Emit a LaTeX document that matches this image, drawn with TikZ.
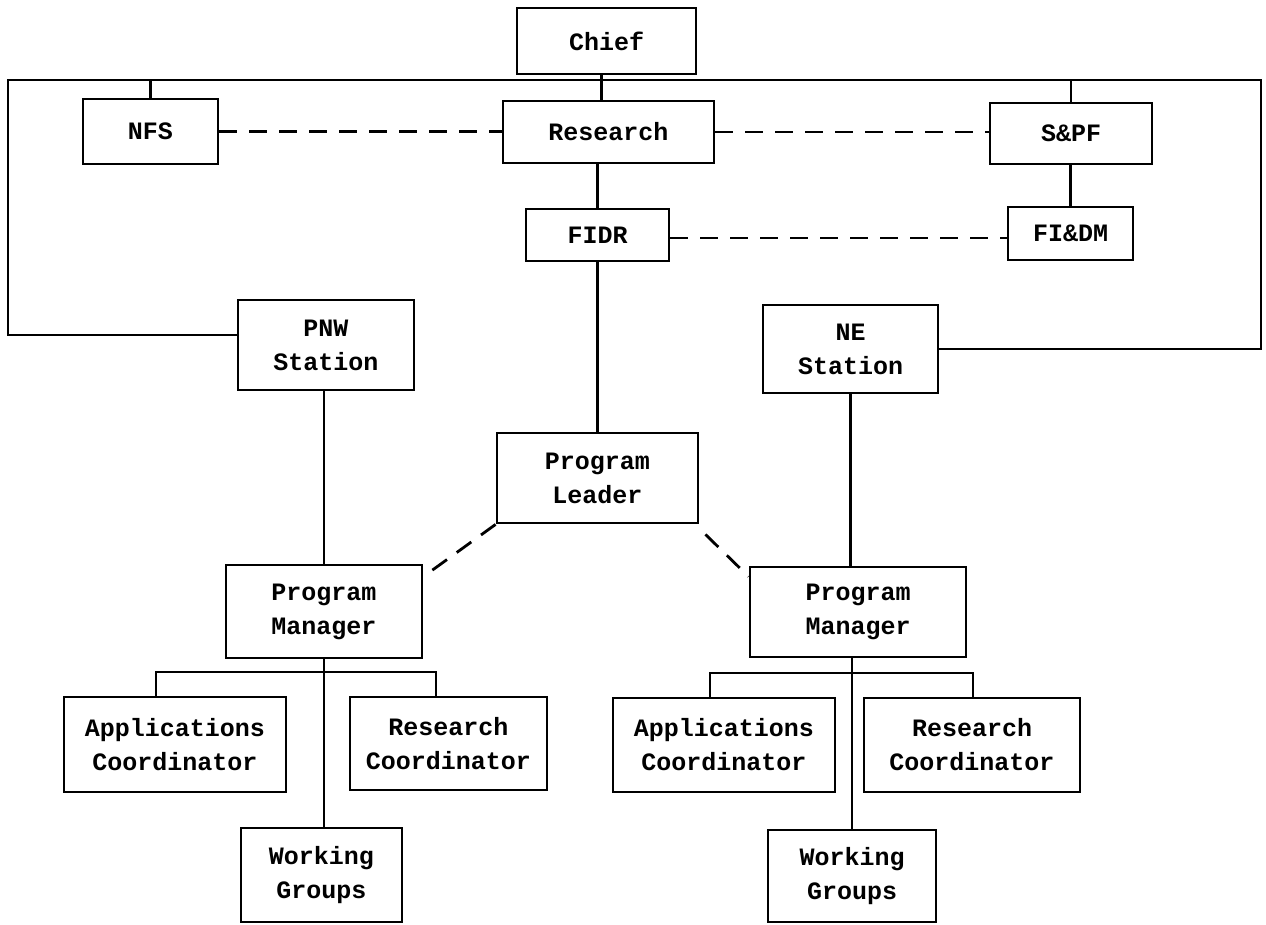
\documentclass[tikz,border=0pt]{standalone}
\usepackage{fontspec}
\newfontfamily\tw{Liberation Mono}
\begin{document}
\begin{tikzpicture}[x=1pt,y=-1pt,
  box/.style={draw, line width=2.8pt, inner sep=0pt, align=center,
    font=\tw\bfseries\fontsize{25}{34}\selectfont},
  conn/.style={line width=2.8pt},
  dsh/.style={line width=2.8pt, dash pattern=on 18pt off 12pt}]
\useasboundingbox (0,0) rectangle (1266,924);
% boxes
\node[box, minimum width=179pt, minimum height=66pt] (chief) at (606.5,41) {Chief};
\node[box, minimum width=135pt, minimum height=65pt] (nfs) at (150.5,131.5) {NFS};
\node[box, minimum width=211pt, minimum height=62pt] (research) at (608.5,132) {Research};
\node[box, minimum width=162pt, minimum height=61pt] (spf) at (1071,133.5) {S\&PF};
\node[box, minimum width=143pt, minimum height=52pt] (fidr) at (597.5,235) {FIDR};
\node[box, minimum width=125pt, minimum height=53pt] (fidm) at (1070.5,233.5) {FI\&DM};
\node[box, minimum width=176pt, minimum height=90pt] (pnw) at (326,345) {PNW\\Station};
\node[box, minimum width=175pt, minimum height=88pt] (ne) at (850.5,349) {NE\\Station};
\node[box, minimum width=201pt, minimum height=90pt] (pl) at (597.5,478) {Program\\Leader};
\node[box, minimum width=196pt, minimum height=93pt] (pmL) at (324,611.5) {Program\\Manager};
\node[box, minimum width=216pt, minimum height=90pt] (pmR) at (858,612) {Program\\Manager};
\node[box, minimum width=222pt, minimum height=95pt] (acL) at (175,744.5) {Applications\\Coordinator};
\node[box, minimum width=197pt, minimum height=93pt] (rcL) at (448.5,743.5) {Research\\Coordinator};
\node[box, minimum width=161pt, minimum height=94pt] (wgL) at (321.5,875) {Working\\Groups};
\node[box, minimum width=222pt, minimum height=94pt] (acR) at (724,745) {Applications\\Coordinator};
\node[box, minimum width=216pt, minimum height=94pt] (rcR) at (972,745) {Research\\Coordinator};
\node[box, minimum width=168pt, minimum height=92pt] (wgR) at (852,876) {Working\\Groups};
% top frame
\coordinate (tl) at (8,80);
\coordinate (tr) at (1261,80);
\draw[conn] ([yshift=10pt]pnw.west) -| (tl) -- (tr) |- (ne.east);
\draw[conn] (nfs.north) -- (nfs.north |- tl);
\draw[conn] (spf.north) -- (spf.north |- tr);
\draw[conn] ([xshift=-5pt]chief.south) -- ([xshift=-5pt]chief.south |- research.north);
\draw[conn] (fidm.north) -- (fidm.north |- spf.south);
\draw[conn] (fidr.north) -- (fidr.north |- research.south);
\draw[conn] (fidr.south) -- (pl.north);
\draw[conn] (pmL.north) -- (pmL.north |- pnw.south);
\draw[conn] (ne.south) -- (ne.south |- pmR.north);
% dashed links
\draw[dsh] (nfs.east) -- (nfs.east -| research.west);
\draw[dsh] (research.east) -- (research.east -| spf.west);
\draw[dsh] ([yshift=-3pt]fidr.east) -- ([yshift=-3pt]fidr.east -| fidm.west);
\draw[dsh] (pl.south west) -- ([yshift=-13pt]pmL.north east);
\draw[dsh] ([xshift=6pt,yshift=-10pt]pl.south east) -- ([yshift=-11pt]pmR.north west);
% left subtree
\coordinate (bL1) at (156,672);
\coordinate (bL2) at (436,672);
\draw[conn] (bL1 |- acL.north) -- (bL1) -- (bL2) -- (bL2 |- rcL.north);
\draw[conn] (pmL.south) -- (pmL.south |- wgL.north);
% right subtree
\coordinate (bR1) at (710,673);
\coordinate (bR2) at (973,673);
\draw[conn] (bR1 |- acR.north) -- (bR1) -- (bR2) -- (bR2 |- rcR.north);
\draw[conn] (wgR.north |- pmR.south) -- (wgR.north);
\end{tikzpicture}
\end{document}
